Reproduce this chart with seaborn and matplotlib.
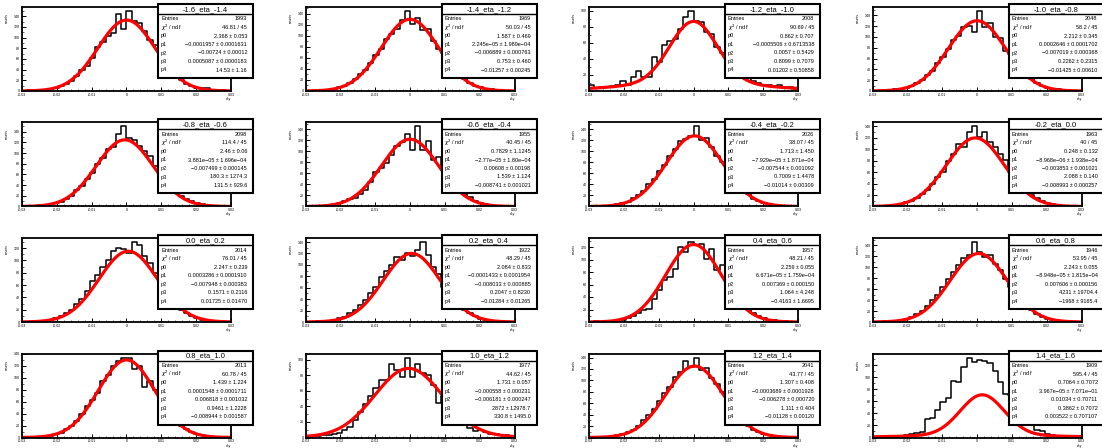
import numpy as np
import pandas as pd
import matplotlib
matplotlib.use("Agg")
import matplotlib.pyplot as plt
import seaborn as sns
from matplotlib.patches import Rectangle
from matplotlib.ticker import MultipleLocator, AutoMinorLocator, FuncFormatter

sns.set_theme(style="white")
plt.rcParams["font.family"] = ["Liberation Sans", "DejaVu Sans"]

# ---- data -------------------------------------------------------------
eta_bins = ["-1.6_eta_-1.4", "-1.4_eta_-1.2", "-1.2_eta_-1.0", "-1.0_eta_-0.8",
            "-0.8_eta_-0.6", "-0.6_eta_-0.4", "-0.4_eta_-0.2", "-0.2_eta_0.0",
            "0.0_eta_0.2", "0.2_eta_0.4", "0.4_eta_0.6", "0.6_eta_0.8",
            "0.8_eta_1.0", "1.0_eta_1.2", "1.2_eta_1.4", "1.4_eta_1.6"]

x_lo, x_hi, n_bins = -0.03, 0.03, 40

counts = [
    [0,1,0,1,2,3,6,9,13,19,28,40,47,62,82,91,103,108,145,117,150,131,127,112,96,86,64,52,37,30,20,13,9,6,5,6,2,1,1,0],
    [0,0,1,2,2,4,7,9,15,22,30,38,50,66,76,95,104,112,128,145,122,132,110,113,90,76,68,49,40,27,22,15,9,7,4,3,2,1,0,0],
    [8,4,5,5,6,8,12,8,18,25,18,17,42,36,57,62,65,78,93,100,87,86,74,71,55,48,42,35,28,22,17,13,10,8,8,6,8,4,5,2],
    [0,0,1,1,3,4,6,9,15,20,30,37,52,62,77,95,102,118,120,110,148,118,126,100,98,74,68,48,42,28,22,14,9,6,4,3,1,1,0,0],
    [0,0,1,2,2,4,7,9,14,20,30,38,52,62,80,90,108,112,135,150,128,124,113,104,95,76,64,52,38,28,20,14,10,7,4,3,1,1,0,0],
    [0,0,1,1,2,4,6,10,14,16,22,29,45,63,70,78,93,110,116,131,102,145,102,119,84,90,70,52,40,30,22,18,10,7,4,3,1,1,0,0],
    [0,0,1,1,3,4,6,9,15,20,28,40,50,64,76,92,104,118,122,128,145,120,124,108,92,80,62,50,38,30,22,14,10,6,4,2,1,1,0,0],
    [0,0,1,1,2,4,7,10,14,22,28,40,52,60,80,92,110,104,130,140,122,130,112,104,92,82,60,52,40,28,20,15,10,6,4,2,1,1,0,0],
    [0,0,1,2,2,4,6,10,15,20,30,38,50,66,76,90,100,116,120,118,112,130,125,108,96,80,70,50,40,30,20,14,10,6,4,3,1,1,0,0],
    [0,0,1,1,2,4,7,9,15,21,29,38,50,62,79,90,100,114,108,120,116,126,140,118,96,84,62,48,40,28,21,15,10,6,4,2,1,1,0,0],
    [0,1,0,1,1,2,4,6,10,14,19,21,37,51,67,72,85,120,112,128,123,125,101,117,83,92,54,66,46,30,22,15,10,7,4,3,1,1,0,0],
    [0,0,1,1,2,4,6,10,14,20,29,40,50,64,78,92,104,116,122,146,128,118,122,106,94,78,64,52,38,30,21,14,10,6,4,2,1,1,0,0],
    [0,0,1,1,2,3,6,8,14,20,28,40,52,62,74,94,104,120,128,133,134,114,120,84,95,80,60,50,38,28,20,14,9,6,5,3,1,1,0,0],
    [1,2,2,3,3,5,6,10,14,23,33,43,54,64,74,74,95,87,78,103,78,95,83,80,68,45,54,40,34,26,20,12,8,10,7,4,4,3,3,2],
    [0,0,1,1,2,4,6,9,14,21,30,40,50,64,78,88,106,114,134,124,140,118,122,104,94,80,62,50,40,28,20,14,10,6,4,2,1,1,0,0],
    [0,0,1,1,2,3,4,6,8,9,31,32,46,59,66,94,93,117,133,126,129,128,124,111,92,73,70,45,30,25,21,13,10,6,4,3,2,1,1,0],
]

# fitted curves: core gaussian plus a wide tail component
fit_mean = [0.0, 0.0, 0.0, 0.0, -0.0005, 0.0, 0.0003, -0.0005, 0.0005, 0.0005, 0.0, 0.0005,
            0.0, -0.0004, 0.0003, 0.0015]
core_amp = [133, 130, 77, 130, 125, 122, 128, 120, 115, 120, 124, 125, 130, 87, 125, 67]
core_sigma = [0.0082, 0.0082, 0.0068, 0.0082, 0.0082, 0.0082, 0.0082, 0.0083, 0.0084, 0.0082,
              0.0080, 0.0082, 0.0081, 0.0097, 0.0082, 0.0063]
tail_amp = [0, 0, 10, 0, 0, 0, 0, 0, 0, 0, 0, 0, 0, 2, 0, 4]
tail_sigma = [0.02] * 16

entries = ["1993", "1969", "2008", "2048", "2098", "1955", "2026", "1963",
           "2014", "1922", "1957", "1946", "2013", "1977", "2041", "1909"]
chi2_ndf = ["46.81 / 45", "50.03 / 45", "90.69 / 45", "58.2 / 45",
            "114.4 / 45", "40.45 / 45", "38.07 / 45", "40 / 45",
            "76.01 / 45", "48.29 / 45", "48.21 / 45", "53.95 / 45",
            "60.78 / 45", "44.62 / 45", "43.77 / 45", "595.4 / 45"]
p0_txt = ["2.368 ± 0.053", "1.587 ± 0.469", "0.862 ± 0.707", "2.212 ± 0.345",
          "2.46 ± 0.06", "0.7829 ± 1.1245", "1.713 ± 1.450", "0.248 ± 0.132",
          "2.247 ± 0.239", "2.084 ± 0.833", "2.259 ± 0.055", "2.243 ± 0.055",
          "1.439 ± 1.224", "1.731 ± 0.057", "1.307 ± 0.408", "0.7064 ± 0.7072"]
p1_txt = ["−0.0001957 ± 0.0001631", "2.245e−05 ± 1.989e−04", "−0.0005506 ± 0.6713538",
          "0.0002646 ± 0.0001702", "3.881e−05 ± 1.696e−04", "−2.77e−05 ± 1.80e−04",
          "−7.929e−05 ± 1.871e−04", "−8.968e−06 ± 1.938e−04", "0.0003286 ± 0.0001910",
          "−0.0001433 ± 0.0001954", "6.671e−05 ± 1.759e−04", "−8.948e−05 ± 1.815e−04",
          "0.0001548 ± 0.0001711", "−0.000558 ± 0.000231", "−0.0003689 ± 0.0001928",
          "3.967e−05 ± 7.071e−01"]
p2_txt = ["−0.00724 ± 0.00012", "−0.006889 ± 0.000763", "0.0057 ± 0.5429",
          "−0.007019 ± 0.000368", "−0.007499 ± 0.000145", "0.00608 ± 0.00198",
          "−0.007544 ± 0.001092", "−0.003853 ± 0.001021", "−0.007948 ± 0.000383",
          "−0.008033 ± 0.000885", "0.007369 ± 0.000150", "0.007606 ± 0.000156",
          "0.006818 ± 0.001032", "−0.006181 ± 0.000247", "−0.006278 ± 0.000720",
          "0.01034 ± 0.70711"]
p3_txt = ["0.0005087 ± 0.0000183", "0.753 ± 0.460", "0.8099 ± 0.7079", "0.2262 ± 0.2315",
          "180.3 ± 1274.3", "1.539 ± 1.124", "0.7009 ± 1.4478", "2.088 ± 0.140",
          "0.1571 ± 0.2116", "0.2047 ± 0.8230", "1.064 ± 4.248", "4231 ± 19704.4",
          "0.9461 ± 1.2228", "2872 ± 12978.7", "1.111 ± 0.404", "0.3862 ± 0.7072"]
p4_txt = ["14.53 ± 1.16", "−0.01257 ± 0.00245", "0.01202 ± 0.50858", "−0.01425 ± 0.00610",
          "131.5 ± 929.6", "−0.008741 ± 0.001021", "−0.01014 ± 0.00309", "−0.008993 ± 0.000257",
          "0.01725 ± 0.01470", "−0.01284 ± 0.01265", "−0.4163 ± 1.6695", "−1968 ± 9165.4",
          "−0.008944 ± 0.001587", "330.8 ± 1495.0", "−0.01128 ± 0.00120", "0.003522 ± 0.707107"]

# ---- figure -----------------------------------------------------------
W, H = 1102, 448
fig = plt.figure(figsize=(W / 100, H / 100), dpi=100)
fig.patch.set_facecolor("white")

bin_w = (x_hi - x_lo) / n_bins
centers = x_lo + bin_w * (np.arange(n_bins) + 0.5)
xfit = np.linspace(x_lo, x_hi, 400)

col_pitch, row_pitch = 283.5, 115.5
frame_w, frame_h = 209, 84
box_w, box_h, title_h = 95, 74, 10


def tick_fmt(v, _):
    if abs(v) < 1e-12:
        return "0"
    return f"{v:g}"


for k in range(16):
    r, c = divmod(k, 4)
    L = 22 + col_pitch * c
    T = 7.0 + row_pitch * r
    ax = fig.add_axes([L / W, 1 - (T + frame_h) / H, frame_w / W, frame_h / H])
    ax.set_facecolor("white")

    hist_df = pd.DataFrame({"dxy": centers, "n": counts[k]})
    sns.histplot(data=hist_df, x="dxy", weights="n", bins=n_bins, binrange=(x_lo, x_hi),
                 element="step", fill=False, color="black", linewidth=1.1, ax=ax)
    dx = xfit - fit_mean[k]
    yfit = (core_amp[k] * np.exp(-0.5 * (dx / core_sigma[k]) ** 2)
            + tail_amp[k] * np.exp(-0.5 * (dx / tail_sigma[k]) ** 2))
    sns.lineplot(x=xfit, y=yfit, color="red", linewidth=2.3, ax=ax)

    ax.set_xlim(x_lo, x_hi)
    ax.set_ylim(0, 1.05 * max(counts[k]))
    ax.set_xlabel("")
    ax.set_ylabel("")
    ax.xaxis.set_major_locator(MultipleLocator(0.01))
    ax.xaxis.set_minor_locator(AutoMinorLocator(5))
    ax.yaxis.set_major_locator(MultipleLocator(20))
    ax.yaxis.set_minor_locator(AutoMinorLocator(2))
    ax.xaxis.set_major_formatter(FuncFormatter(tick_fmt))
    ax.tick_params(which="major", direction="in", length=3, width=0.7, labelsize=2.6,
                   pad=1.3, colors="black", bottom=True, left=True)
    ax.tick_params(which="minor", direction="in", length=1.5, width=0.5,
                   bottom=True, left=True)
    for s in ax.spines.values():
        s.set_visible(True)
        s.set_color("black")
        s.set_linewidth(1.3)

    fig.text((L - 15) / W, 1 - (T + 6) / H, "counts", rotation=90, fontsize=2.4,
             ha="center", va="top", color="black")
    fig.text((L + frame_w - 2) / W, 1 - (T + frame_h + 8) / H, "dxy", fontsize=2.4,
             ha="center", va="center", color="black")

    # statistics box
    bx = fig.add_axes([(L + 136) / W, 1 - (T - 3 + box_h) / H, box_w / W, box_h / H])
    bx.set_axis_off()
    bx.set_xlim(0, box_w)
    bx.set_ylim(box_h, 0)
    bx.add_patch(Rectangle((0, 0), box_w, box_h, facecolor="white", edgecolor="black",
                           linewidth=1.5, clip_on=False))
    bx.plot([0, box_w], [title_h, title_h], color="black", linewidth=1.0)
    bx.text(box_w / 2, title_h / 2 + 0.3, eta_bins[k], ha="center", va="center",
            fontsize=5.4, color="black")
    labels = ["Entries", r"$\chi^{2}$ / ndf", "p0", "p1", "p2", "p3", "p4"]
    values = [entries[k], chi2_ndf[k], p0_txt[k], p1_txt[k], p2_txt[k], p3_txt[k], p4_txt[k]]
    for j, (lab, val) in enumerate(zip(labels, values)):
        y = 15 + 8.5 * j
        bx.text(3, y, lab, ha="left", va="center", fontsize=4.0, color="black")
        bx.text(box_w - 6, y, val, ha="right", va="center", fontsize=4.0, color="black")

fig.savefig("out.png", dpi=100, facecolor="white")
